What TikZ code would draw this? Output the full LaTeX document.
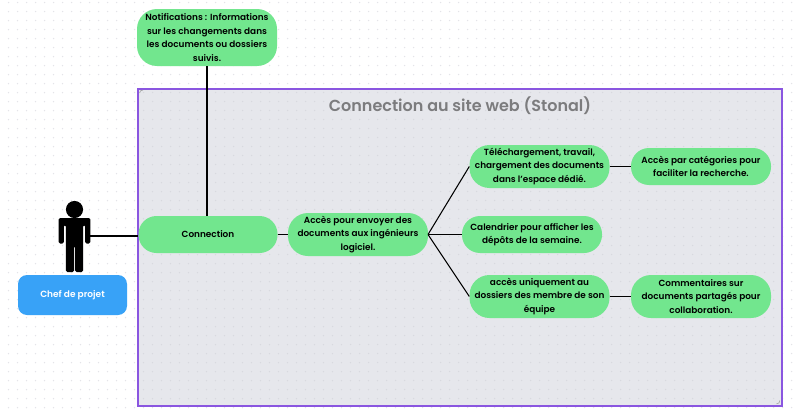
\documentclass[tikz,border=0pt]{standalone}
\usepackage{fontspec}
\setmainfont{Poppins}[BoldFont=Poppins SemiBold]
\definecolor{grn}{HTML}{72E68E}
\definecolor{blu}{HTML}{38A2F7}
\definecolor{pur}{HTML}{8A56E0}
\definecolor{pan}{HTML}{E6E7EC}
\definecolor{ttl}{HTML}{7C7C7E}
\definecolor{dotc}{HTML}{E4E4E8}
\definecolor{dotd}{HTML}{D8D9DF}
\tikzset{
  box/.style={fill=grn,rounded corners=#1,align=center,inner sep=0pt,font=\fontsize{8.9}{13.4}\selectfont\bfseries},
  box/.default=18pt,
  link/.style={line width=1.05pt,black},
  limb/.style={fill=black,rounded corners=1.5pt}
}
\begin{document}
\begin{tikzpicture}[x=1pt,y=-1pt]
\useasboundingbox (0,0) rectangle (801,415);
\fill[white] (0,0) rectangle (801,415);
\foreach \y in {2.5,11.5,...,414}{\foreach \x in {8.5,17.5,...,800}{\fill[dotc] (\x,\y) circle (.75);}}
\fill[pur] (137,87.5) rectangle (782.5,406.5);
\fill[pan] (139,89.5) rectangle (780.5,404.5);
\foreach \y in {92.5,101.5,...,404}{\foreach \x in {143.5,152.5,...,778}{\fill[dotd] (\x,\y) circle (.75);}}
\draw[gray!75,line width=.6pt] (139.6,93) .. controls (139.6,91) and (141,90.1) .. (143,90.1);
\draw[gray!75,line width=.6pt] (779.9,400.5) .. controls (779.9,402.5) and (778.5,403.9) .. (776.5,403.9);
\node[text=ttl,font=\fontsize{16}{18}\selectfont\bfseries] (title) at (460,105.6) {Connection au site web (Stonal)};

\node[box=20pt,minimum width=140pt,minimum height=57pt] (notif) at (207,37.5) {Notifications : Informations\\sur les changements dans\\les documents ou dossiers\\suivis.};
\node[box=18pt,minimum width=139pt,minimum height=37pt] (conn) at (208,234.5) {Connection};
\node[box=20pt,minimum width=140pt,minimum height=43pt] (acc) at (358,234.5) {Accès pour envoyer des\\documents aux ingénieurs\\logiciel.};
\node[box=20pt,minimum width=140pt,minimum height=43pt] (tele) at (539.5,166.5) {Téléchargement, travail,\\chargement des documents\\dans l'espace dédié.};
\node[box=18pt,minimum width=140pt,minimum height=37pt] (cat) at (701,166.5) {Accès par catégories pour\\faciliter la recherche.};
\node[box=18pt,minimum width=140pt,minimum height=37pt] (cal) at (532,234.5) {Calendrier pour afficher les\\dépôts de la semaine.};
\node[box=20pt,minimum width=140pt,minimum height=43pt] (uniq) at (539.5,296.5) {accès uniquement au\\dossiers des membre de son\\équipe};
\node[box=20pt,minimum width=140pt,minimum height=43pt] (comm) at (701,296.5) {Commentaires sur\\documents partagés pour\\collaboration.};
\node[fill=blu,rounded corners=9pt,minimum width=109pt,minimum height=40pt,inner sep=0pt,text=white,font=\fontsize{9}{11}\selectfont\bfseries] (chef) at (72.5,295) {Chef de projet};

% person
\fill[black] (74.5,209.5) circle (8.6);
\fill[limb] (58.7,243.5) -- (58.7,218) -- (90.3,218) -- (90.3,243.5) -- (85.2,243.5) -- (85.2,225) -- (83.2,225) -- (83.2,272) -- (75.2,272) -- (75.2,246) -- (74,246) -- (74,272) -- (65.8,272) -- (65.8,225) -- (63.8,225) -- (63.8,243.5) -- cycle;
\coordinate (person) at (90,236);

\draw[link] (person) -- (conn.west |- person);
\draw[link] (notif.south) -- (notif.south |- conn.north);
\draw[link] (conn.east) -- (acc.west);
\coordinate (hub) at (428,234.5);
\draw[link] (hub) -- (tele.west);
\draw[link] (hub) -- (cal.west);
\draw[link] (hub) -- (uniq.west);
\draw[link] (tele.east) -- (cat.west);
\draw[link] (uniq.east) -- (comm.west);
\end{tikzpicture}
\end{document}
